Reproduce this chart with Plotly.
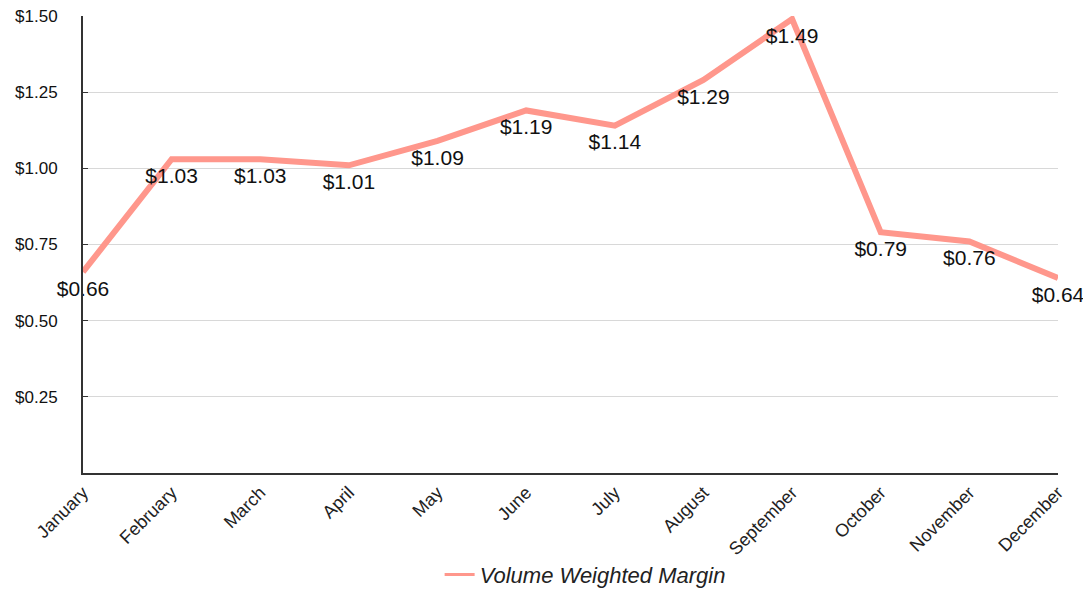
import plotly.graph_objects as go

months = ["January", "February", "March", "April", "May", "June", "July",
          "August", "September", "October", "November", "December"]
margin_values = [0.66, 1.03, 1.03, 1.01, 1.09, 1.19, 1.14, 1.29, 1.49, 0.79, 0.76, 0.64]
y_tick_vals = [0.25, 0.50, 0.75, 1.00, 1.25, 1.50]
y_tick_text = ["$0.25", "$0.50", "$0.75", "$1.00", "$1.25", "$1.50"]
series_name = "Volume Weighted Margin"
line_color = "#FF978C"
font_family = "Liberation Sans, Arial, sans-serif"

fig = go.Figure()
fig.add_trace(go.Scatter(
    x=months, y=margin_values, name=series_name,
    mode="lines+markers+text",
    text=[f"${v:.2f}" for v in margin_values],
    textposition="bottom center",
    textfont=dict(family=font_family, size=21, color="#111"),
    marker=dict(size=11, color="rgba(0,0,0,0)"),
    line=dict(color=line_color, width=6),
    cliponaxis=False,
    showlegend=False,
))
# legend-only entry with a thinner swatch
fig.add_trace(go.Scatter(
    x=[None], y=[None], name=series_name, mode="lines",
    line=dict(color=line_color, width=3), showlegend=True,
))

# page body has an 8px default margin, so the figure is sized to compensate
fig.update_layout(
    width=1083, height=583,
    margin=dict(l=75, r=33, t=8, b=118),
    plot_bgcolor="white", paper_bgcolor="white",
    font=dict(family=font_family, color="#111"),
    showlegend=True,
    legend=dict(orientation="h", x=0.515, xanchor="center",
                yref="container", y=0.028, yanchor="middle",
                itemwidth=30,
                font=dict(size=22, color="#222", style="italic")),
    xaxis=dict(
        type="category", range=[0, 11], showgrid=False, showline=True,
        linecolor="#333", linewidth=2, automargin=False,
        tickangle=-45, tickfont=dict(size=18, color="#222"), ticks="", zeroline=False,
        ticklabeloverflow="allow",
    ),
    yaxis=dict(
        range=[0, 1.5], tickvals=y_tick_vals, ticktext=y_tick_text,
        showgrid=True, gridcolor="#d8d8d8", gridwidth=1, automargin=False,
        showline=True, linecolor="#333", linewidth=2,
        ticks="inside", ticklen=5, tickcolor="#333",
        ticklabelstandoff=20, ticklabeloverflow="allow",
        tickfont=dict(size=17), zeroline=False,
    ),
)

fig.write_html("out.html")
